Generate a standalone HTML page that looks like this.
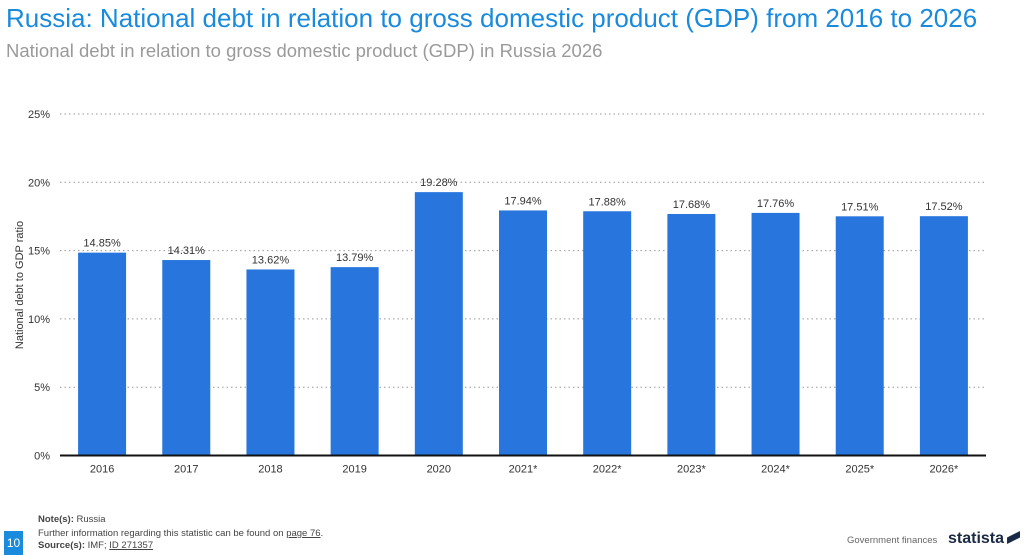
<!DOCTYPE html>
<html><head><meta charset="utf-8"><style>
body{margin:0;width:1024px;height:555px;background:#fff;font-family:"Liberation Sans",sans-serif;overflow:hidden;position:relative}
.t{position:absolute;white-space:nowrap}
</style></head><body>
<div class="t" style="left:6px;top:3px;font-size:26px;color:#1a8bdc">Russia: National debt in relation to gross domestic product (GDP) from 2016 to 2026</div>
<div class="t" style="left:6px;top:40px;font-size:18.5px;color:#9a9a9a">National debt in relation to gross domestic product (GDP) in Russia 2026</div>
<svg id="chart" width="1024" height="500" style="position:absolute;left:0;top:0"></svg>
<div class="t" style="left:4px;top:531px;width:19px;height:24px;background:#1a8bdc;color:#fff;font-size:12px;text-align:center;line-height:24px">10</div>
<div class="t" style="left:38px;top:514px;font-size:9.5px;color:#444"><b>Note(s):</b> Russia</div>
<div class="t" style="left:38px;top:528px;font-size:9.5px;color:#444">Further information regarding this statistic can be found on <u>page 76</u>.</div>
<div class="t" style="left:38px;top:540px;font-size:9.5px;color:#444"><b>Source(s):</b> IMF; <u>ID 271357</u></div>
<div class="t" style="left:847px;top:535px;font-size:9.5px;color:#666">Government finances</div>
<div class="t" style="left:948px;top:530px;font-size:16px;font-weight:bold;color:#1b2a44">statista<span style="display:inline-block;width:13px;height:13px;background:#1b2a44;margin-left:3px;vertical-align:-1px;clip-path:polygon(0 100%,0 50%,100% 0,100% 50%)"></span></div>
<script>
const categories=["2016","2017","2018","2019","2020","2021*","2022*","2023*","2024*","2025*","2026*"];
const values=[14.85,14.31,13.62,13.79,19.28,17.94,17.88,17.68,17.76,17.51,17.52];
const valueLabels=["14.85%","14.31%","13.62%","13.79%","19.28%","17.94%","17.88%","17.68%","17.76%","17.51%","17.52%"];
const ticks=[0,5,10,15,20,25];
const NS="http://www.w3.org/2000/svg";
const svg=document.getElementById('chart');
const y0=455.5,yTop=114,left=60,right=986;
const y=v=>y0-(v/25)*(y0-yTop);
const step=(right-left)/categories.length;
const x=i=>left+step*(i+0.5);
function mk(t,a){const e=document.createElementNS(NS,t);for(const k in a)e.setAttribute(k,a[k]);svg.appendChild(e);return e;}
ticks.forEach(t=>{
 if(t>0){const g=mk('line',{x1:left,x2:right,y1:y(t),y2:y(t),stroke:'#999','stroke-dasharray':'1.5,3','stroke-width':1});
 
 }
 const l=mk('text',{x:50,y:y(t)+4,'text-anchor':'end','font-size':11,fill:'#333'});l.textContent=t+'%';
 
 
});
values.forEach((v,i)=>{
 const b=mk('rect',{x:x(i)-24,y:y(v),width:48,height:y0-y(v),fill:'#2876dd'});
 
 
 const vl=mk('text',{x:x(i),y:y(v)-6,'text-anchor':'middle','font-size':11,fill:'#333'});vl.textContent=valueLabels[i];
 
 
 const cl=mk('text',{x:x(i),y:y0+17,'text-anchor':'middle','font-size':11,fill:'#333'});cl.textContent=categories[i];
 
 
});
const ax=mk('line',{x1:left,x2:right,y1:y0,y2:y0,stroke:'#111','stroke-width':2});


const yt=mk('text',{x:0,y:0,transform:'translate(23,285) rotate(-90)','text-anchor':'middle','font-size':11,fill:'#333'});yt.textContent='National debt to GDP ratio';


</script>
</body></html>
